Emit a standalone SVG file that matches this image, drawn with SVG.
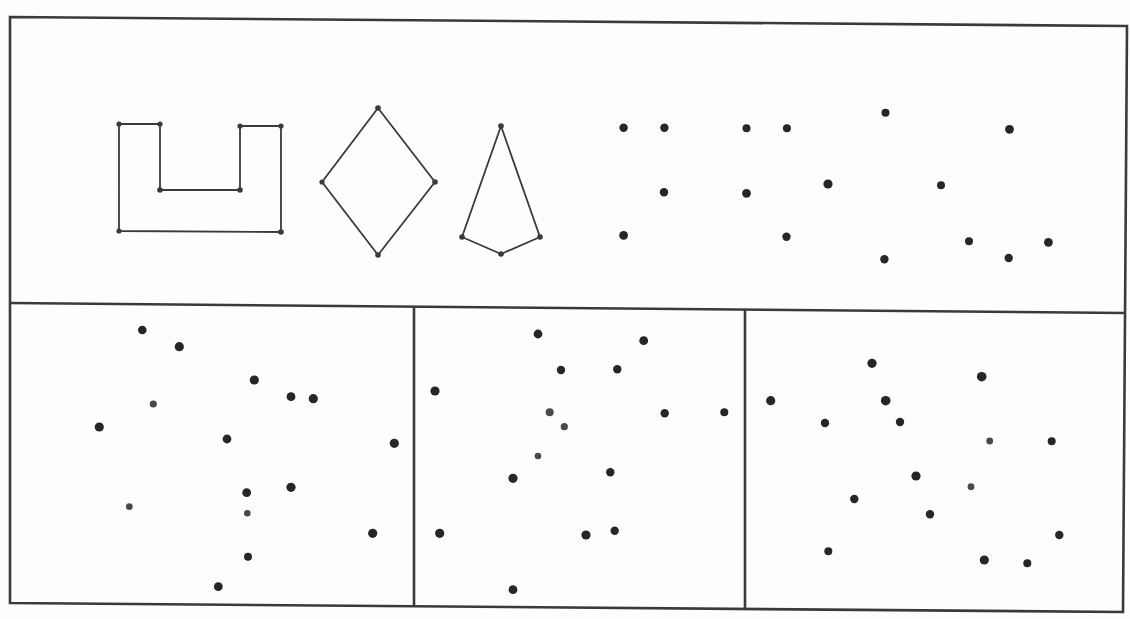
<svg xmlns="http://www.w3.org/2000/svg" width="1130" height="619" viewBox="0 0 1130 619">
<style>
.frame{fill:none;stroke:#3a3a3a;stroke-width:2.6;stroke-linejoin:miter}
.shape{fill:none;stroke:#3a3a3a;stroke-width:1.8;stroke-linejoin:round}
.v{fill:#3a3a3a}
.d{fill:#262626}
.s{fill:#4a4a4a}
</style>
<rect width="1130" height="619" fill="#fdfdfd"/>
<g id="frame">
<path class="frame" d="M10 17 L1127 26 L1123 612 L10 603 Z"/>
<path class="frame" d="M10 303 L1125 313"/>
<path class="frame" d="M414 307 L414 607"/>
<path class="frame" d="M745 309 L745 609"/>
</g>
<g id="u-shape">
<polygon class="shape" points="119,124 160,124 160,190 240,190 240,126 281,126 281,232 119,231"/>
<g class="v">
<circle cx="119" cy="124" r="2.6"/><circle cx="160" cy="124" r="2.6"/><circle cx="160" cy="190" r="2.8"/><circle cx="240" cy="190" r="2.8"/>
<circle cx="240" cy="126" r="2.6"/><circle cx="281" cy="126" r="2.6"/><circle cx="281" cy="232" r="2.8"/><circle cx="119" cy="231" r="2.6"/>
</g>
</g>
<g id="diamond">
<polygon class="shape" points="378,108 435,182 378,255 322,182"/>
<g class="v"><circle cx="378" cy="108" r="2.8"/><circle cx="435" cy="182" r="2.8"/><circle cx="378" cy="255" r="2.8"/><circle cx="322" cy="182" r="2.6"/></g>
</g>
<g id="kite">
<polygon class="shape" points="501,126 540,237 501,254 462,237"/>
<g class="v"><circle cx="501" cy="126" r="2.8"/><circle cx="540" cy="237" r="2.8"/><circle cx="501" cy="254" r="2.8"/><circle cx="462" cy="237" r="2.8"/></g>
</g>
<g id="dots-top" class="d">
<circle cx="623.6" cy="127.7" r="4.2"/><circle cx="664.4" cy="127.7" r="4.2"/><circle cx="746.5" cy="128.3" r="4"/><circle cx="786.9" cy="128.3" r="4"/>
<circle cx="885.5" cy="112.7" r="4"/><circle cx="1009.5" cy="129.3" r="4.4"/><circle cx="664" cy="192.3" r="4.2"/><circle cx="746.5" cy="193.3" r="4.4"/>
<circle cx="828" cy="184" r="4.6"/><circle cx="941" cy="185.3" r="4"/><circle cx="623.6" cy="235.3" r="4.4"/><circle cx="786.5" cy="236.7" r="4.2"/>
<circle cx="884.4" cy="259.3" r="4.2"/><circle cx="969" cy="241.3" r="4"/><circle cx="1008.7" cy="258" r="4.2"/><circle cx="1048.4" cy="242.3" r="4.4"/>
</g>
<g id="dots-bottom-left" class="d">
<circle cx="142.3" cy="330" r="4.3"/><circle cx="179.3" cy="346.7" r="4.6"/><circle cx="254.3" cy="380" r="4.6"/><circle cx="291" cy="396.7" r="4.4"/>
<circle cx="313.3" cy="398.7" r="4.6"/><circle class="s" cx="153.3" cy="404" r="3.6"/><circle cx="99.3" cy="427" r="4.6"/><circle cx="227" cy="439" r="4.4"/>
<circle cx="394.3" cy="443.3" r="4.6"/><circle cx="246.7" cy="492.7" r="4.4"/><circle cx="291" cy="487.3" r="4.6"/><circle class="s" cx="129.3" cy="506.7" r="3.4"/>
<circle class="s" cx="247.3" cy="513.3" r="3.3"/><circle cx="372.7" cy="533.3" r="4.6"/><circle cx="248" cy="556.7" r="4"/><circle cx="218.3" cy="586.7" r="4.4"/>
</g>
<g id="dots-bottom-middle" class="d">
<circle cx="538" cy="334" r="4.4"/><circle cx="643.7" cy="340.7" r="4.4"/><circle cx="561" cy="370" r="4.2"/><circle cx="617.3" cy="369.3" r="4.2"/>
<circle cx="435" cy="391" r="4.6"/><circle class="s" cx="549.7" cy="412.3" r="4"/><circle class="s" cx="564.3" cy="426.7" r="3.6"/><circle cx="664.7" cy="413.3" r="4.2"/>
<circle cx="724.3" cy="412.3" r="4"/><circle class="s" cx="538" cy="456" r="3.3"/><circle cx="513" cy="478.3" r="4.6"/><circle cx="610.3" cy="472.3" r="4.2"/>
<circle cx="439.7" cy="533.3" r="4.6"/><circle cx="586" cy="535" r="4.6"/><circle cx="614.7" cy="530.7" r="4.2"/><circle cx="513" cy="589.7" r="4.4"/>
</g>
<g id="dots-bottom-right" class="d">
<circle cx="872" cy="363.3" r="4.6"/><circle cx="981.7" cy="376.7" r="4.8"/><circle cx="770.7" cy="400.7" r="4.6"/><circle cx="885.7" cy="400.7" r="4.8"/>
<circle cx="825" cy="423" r="4.2"/><circle cx="900" cy="422" r="4.2"/><circle class="s" cx="989.7" cy="441" r="3.4"/><circle cx="1051.7" cy="441.3" r="4"/>
<circle cx="916" cy="476" r="4.6"/><circle class="s" cx="971" cy="486.7" r="3.4"/><circle cx="854.3" cy="499" r="4.2"/><circle cx="930" cy="514.3" r="4.2"/>
<circle cx="1059.3" cy="535" r="4.2"/><circle cx="828.3" cy="551.3" r="4"/><circle cx="984.3" cy="560" r="4.6"/><circle cx="1027.3" cy="563.3" r="4"/>
</g>
</svg>
